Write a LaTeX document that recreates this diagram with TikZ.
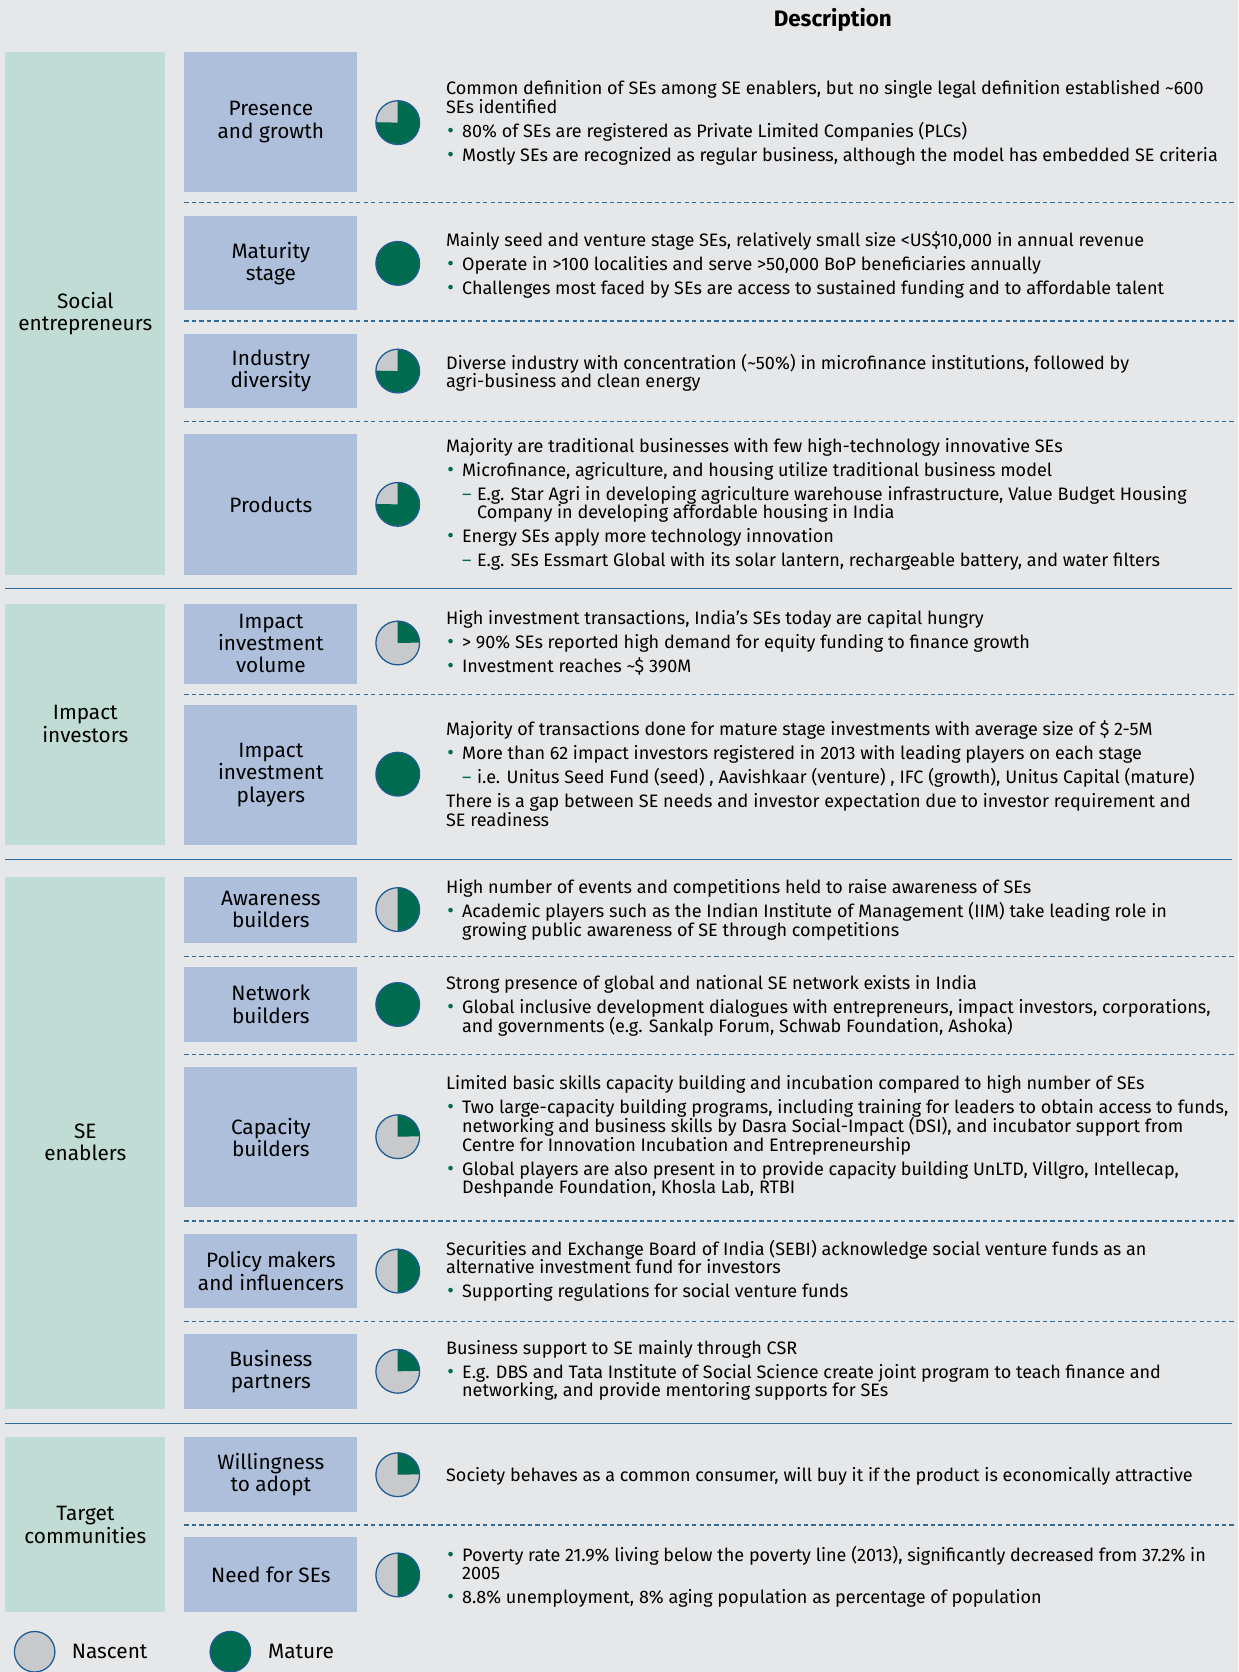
\documentclass[tikz,border=0pt]{standalone}
\usepackage{fontspec}
\setmainfont{Fira Sans}
\usetikzlibrary{positioning}

\definecolor{bggrey}{HTML}{E6E7E9}
\definecolor{grpgreen}{HTML}{C0DCD4}
\definecolor{dimblue}{HTML}{ADBFDA}
\definecolor{matgreen}{HTML}{006B4F}
\definecolor{nasgrey}{HTML}{C8C9CB}
\definecolor{rimblue}{HTML}{1F5C94}
\definecolor{sepblue}{HTML}{2F6C9C}

\newcommand{\lblfont}{\fontsize{9.75}{10.5}\selectfont}
\newcommand{\txtfont}{\fontsize{8.45}{8.75}\selectfont\lineskiplimit=-6pt\relax}
\newcommand{\bul}{\makebox[7.5pt][l]{\hspace{0.6pt}\textcolor{matgreen}{\fontsize{9.5}{8}\selectfont•}}}
\newcommand{\cont}{\hspace*{7.5pt}}
\newcommand{\dsh}{\hspace*{7.5pt}\makebox[7pt][l]{\textcolor{matgreen}{–}}}
\newcommand{\dcont}{\hspace*{14.5pt}}
\newcommand{\pienode}[3]{%
  \node[pie] (#1) at (373,-#2) {};
  \fill[matgreen] (#1.center) -- (#1.north) arc[start angle=90, delta angle=-#3, radius=10.25pt] -- cycle;
  \draw[rimblue, line width=0.6pt] (#1.center) circle[radius=10.25pt];}

\begin{document}
\begin{tikzpicture}[x=0.5pt,y=0.5pt]
\tikzstyle{every node}=[inner sep=0pt]
\tikzstyle{grp}=[fill=grpgreen, minimum width=75pt, align=center, font=\lblfont]
\tikzstyle{dim}=[fill=dimblue, minimum width=81pt, align=center, font=\lblfont]
\tikzstyle{desc}=[anchor=north west, align=left, font=\txtfont]
\tikzstyle{pie}=[circle, minimum size=20.5pt, fill=nasgrey]
\tikzstyle{sep}=[sepblue, line width=0.6pt, dash pattern=on 2pt off 1.5pt]
\tikzstyle{rule}=[sepblue, line width=0.75pt]

\fill[bggrey] (0,0) rectangle (1161,-1568);
\useasboundingbox (0,0) rectangle (1161,-1568);

\node[font=\fontsize{10.5}{12}\selectfont\bfseries] (head) at (781,-19) {Description};

\node[grp, minimum height=245pt] (social) at (80,-294) {Social\\entrepreneurs};
\node[grp, minimum height=113pt] (investors) at (80,-679) {Impact\\investors};
\node[grp, minimum height=249.5pt] (enablers) at (80,-1071.5) {SE\\enablers};
\node[grp, minimum height=82pt] (target) at (80,-1430) {Target\\communities};

\node[dim, minimum height=65.5pt] (presence) at (254,-114.5) {Presence\\and growth};
\node[dim, minimum height=44pt] (maturity) at (254,-247) {Maturity\\stage};
\node[dim, minimum height=35pt] (industry) at (254,-348) {Industry\\diversity};
\node[dim, minimum height=66pt] (products) at (254,-473) {Products};
\node[dim, minimum height=37.5pt] (volume) at (254,-603.5) {Impact\\investment\\volume};
\node[dim, minimum height=65.5pt] (players) at (254,-726.5) {Impact\\investment\\players};
\node[dim, minimum height=31pt] (awareness) at (254,-853) {Awareness\\builders};
\node[dim, minimum height=35pt] (network) at (254,-942) {Network\\builders};
\node[dim, minimum height=65.5pt] (capacity) at (254,-1066.5) {Capacity\\builders};
\node[dim, minimum height=35pt] (policy) at (254,-1192) {Policy makers\\and influencers};
\node[dim, minimum height=35pt] (business) at (254,-1286) {Business\\partners};
\node[dim, minimum height=35pt] (willing) at (254,-1383) {Willingness\\to adopt};
\node[dim, minimum height=35.5pt] (need) at (254,-1476.5) {Need for SEs};

\pienode{p1}{115}{270}
\node[pie, fill=matgreen, draw=rimblue, line width=0.6pt] (p2) at (373,-247) {};
\pienode{p3}{348}{270}
\pienode{p4}{473}{270}
\pienode{p5}{603}{90}
\node[pie, fill=matgreen, draw=rimblue, line width=0.6pt] (p6) at (373,-726) {};
\pienode{p7}{853}{180}
\node[pie, fill=matgreen, draw=rimblue, line width=0.6pt] (p8) at (373,-942) {};
\pienode{p9}{1066}{90}
\pienode{p10}{1192}{180}
\pienode{p11}{1286}{90}
\pienode{p12}{1383}{90}
\pienode{p13}{1477}{180}

\node[desc] (t1) at (418,-75.5) {Common definition of SEs among SE enablers, but no single legal definition established \textasciitilde600\\
SEs identified\\[2.5pt]
\bul 80\% of SEs are registered as Private Limited Companies (PLCs)\\[2.5pt]
\bul Mostly SEs are recognized as regular business, although the model has embedded SE criteria};
\node[desc] (t2) at (418,-216.5) {Mainly seed and venture stage SEs, relatively small size <US\$10,000 in annual revenue\\[2.5pt]
\bul Operate in >100 localities and serve >50,000 BoP beneficiaries annually\\[2.5pt]
\bul Challenges most faced by SEs are access to sustained funding and to affordable talent};
\node[desc] (t3) at (418,-331.5) {Diverse industry with concentration (\textasciitilde50\%) in microfinance institutions, followed by\\
agri-business and clean energy};
\node[desc] (t4) at (418,-410.5) {Majority are traditional businesses with few high-technology innovative SEs\\[2.5pt]
\bul Microfinance, agriculture, and housing utilize traditional business model\\[2.5pt]
\dsh E.g. Star Agri in developing agriculture warehouse infrastructure, Value Budget Housing\\
\dcont Company in developing affordable housing in India\\[2.5pt]
\bul Energy SEs apply more technology innovation\\[2.5pt]
\dsh E.g. SEs Essmart Global with its solar lantern, rechargeable battery, and water filters};
\node[desc] (t5) at (418,-572.5) {High investment transactions, India’s SEs today are capital hungry\\[2.5pt]
\bul > 90\% SEs reported high demand for equity funding to finance growth\\[2.5pt]
\bul Investment reaches \textasciitilde\$ 390M};
\node[desc] (t6) at (418,-675.5) {Majority of transactions done for mature stage investments with average size of \$ 2-5M\\[2.5pt]
\bul More than 62 impact investors registered in 2013 with leading players on each stage\\[2.5pt]
\dsh i.e. Unitus Seed Fund (seed) , Aavishkaar (venture) , IFC (growth), Unitus Capital (mature)\\[2.5pt]
There is a gap between SE needs and investor expectation due to investor requirement and\\
SE readiness};
\node[desc] (t7) at (418,-824.5) {High number of events and competitions held to raise awareness of SEs\\[2.5pt]
\bul Academic players such as the Indian Institute of Management (IIM) take leading role in\\
\cont growing public awareness of SE through competitions};
\node[desc] (t8) at (418,-914.5) {Strong presence of global and national SE network exists in India\\[2.5pt]
\bul Global inclusive development dialogues with entrepreneurs, impact investors, corporations,\\
\cont and governments (e.g. Sankalp Forum, Schwab Foundation, Ashoka)};
\node[desc] (t9) at (418,-1008.5) {Limited basic skills capacity building and incubation compared to high number of SEs\\[2.5pt]
\bul Two large-capacity building programs, including training for leaders to obtain access to funds,\\
\cont networking and business skills by Dasra Social-Impact (DSI), and incubator support from\\
\cont Centre for Innovation Incubation and Entrepreneurship\\[2.5pt]
\bul Global players are also present in to provide capacity building UnLTD, Villgro, Intellecap,\\
\cont Deshpande Foundation, Khosla Lab, RTBI};
\node[desc] (t10) at (418,-1162.5) {Securities and Exchange Board of India (SEBI) acknowledge social venture funds as an\\
alternative investment fund for investors\\[2.5pt]
\bul Supporting regulations for social venture funds};
\node[desc] (t11) at (418,-1256.5) {Business support to SE mainly through CSR\\[2.5pt]
\bul E.g. DBS and Tata Institute of Social Science create joint program to teach finance and\\
\cont networking, and provide mentoring supports for SEs};
\node[desc] (t12) at (418,-1375.5) {Society behaves as a common consumer, will buy it if the product is economically attractive};
\node[desc] (t13) at (418,-1449.5) {\bul Poverty rate 21.9\% living below the poverty line (2013), significantly decreased from 37.2\% in\\
\cont 2005\\[2.5pt]
\bul 8.8\% unemployment, 8\% aging population as percentage of population};

\foreach \y in {190,301,395,651,897,989,1145,1239,1430}
  \draw[sep] (173,-\y) -- (1157,-\y);
\foreach \y in {552,806,1335}
  \draw[rule] (5,-\y) -- (1155,-\y);

\node[pie, minimum size=19pt, draw=rimblue, line width=0.6pt] (nascent) at (32.5,-1549) {};
\node[anchor=west, font=\lblfont] (nascentlbl) at (67,-1549) {Nascent};
\node[pie, minimum size=19pt, fill=matgreen, draw=rimblue, line width=0.6pt] (mature) at (216,-1549) {};
\node[anchor=west, font=\lblfont] (maturelbl) at (251,-1549) {Mature};
\end{tikzpicture}
\end{document}
